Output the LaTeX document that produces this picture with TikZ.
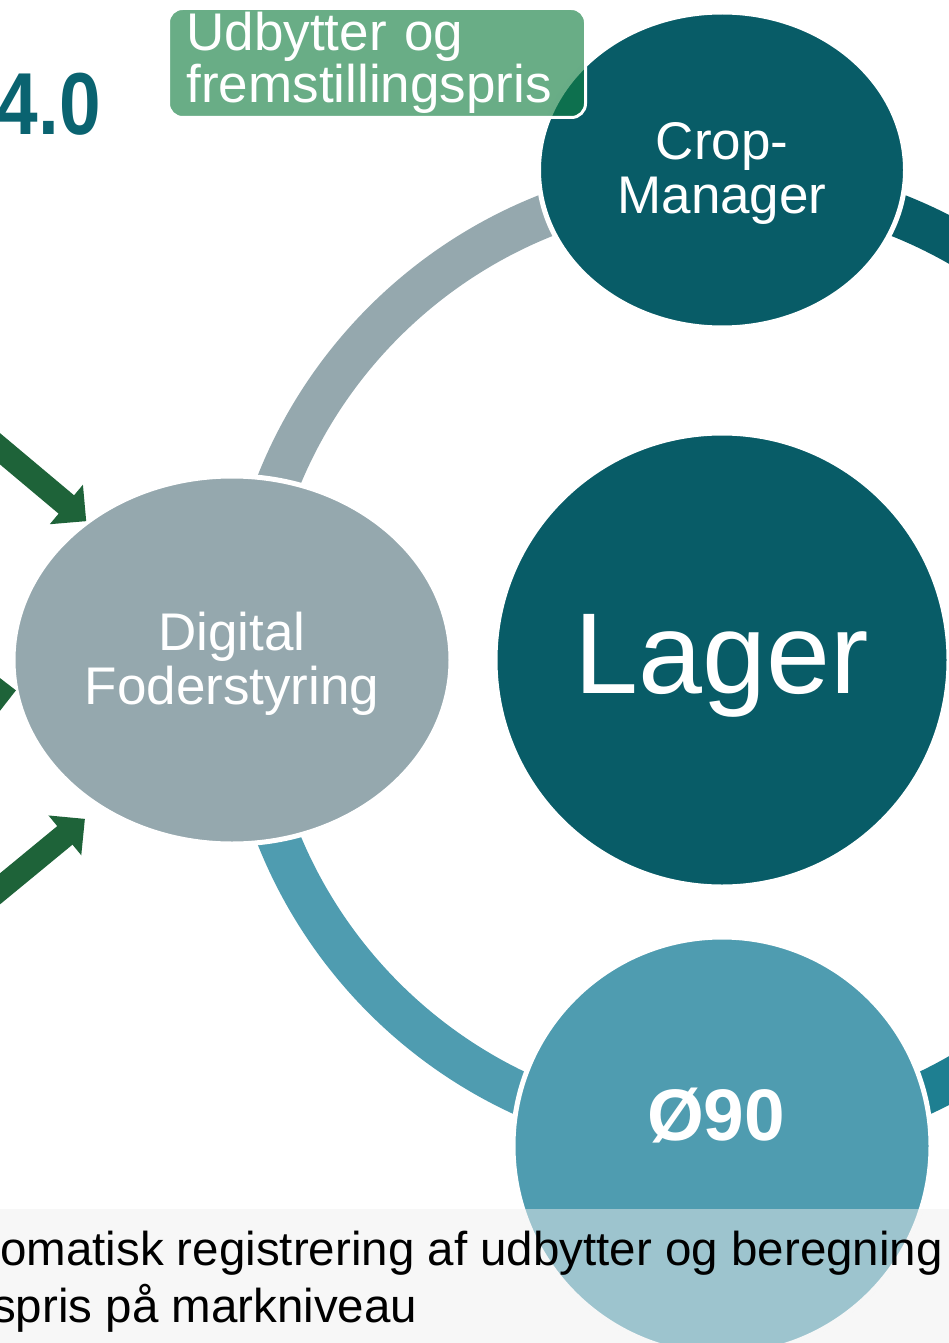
\documentclass[tikz,border=0pt]{standalone}
\usepackage{fontspec}
\setmainfont{Liberation Sans}
\usetikzlibrary{shapes.geometric,arrows.meta,calc}
\definecolor{tealdark}{HTML}{085C67}
\definecolor{grayblue}{HTML}{95A8AE}
\definecolor{lightteal}{HTML}{4F9CB0}
\definecolor{midteal}{HTML}{1E7F91}
\definecolor{arrowgreen}{HTML}{1E6339}
\definecolor{boxgreen}{HTML}{117D40}
\definecolor{bandgray}{HTML}{EFEFEF}
\definecolor{titleteal}{HTML}{0A6370}
\newcommand{\lowered}[2]{\raisebox{-#1pt}[\height][\depth]{#2}}
\tikzset{
  ringarc/.style={line width=43pt},
  cyclenode/.style={ellipse, draw=white, line width=5pt, inner sep=0pt, outer sep=0pt,
    text=white, align=center, font=\fontsize{53}{54}\selectfont},
  feedarrow/.style={arrowgreen, line width=24pt, -{Triangle[width=50pt,length=26pt]}},
  captiontext/.style={anchor=base west, inner sep=0pt, text=black, font=\fontsize{47.5}{57}\selectfont},
}
\begin{document}
\begin{tikzpicture}[x=1pt,y=-1pt]
\useasboundingbox (0,0) rectangle (949,1343);
\clip (0,0) rectangle (949,1343);
\coordinate (C) at (722,660);
% ring segments
\draw[ringarc,grayblue] (C) ++(180:478) arc[start angle=180,end angle=270,radius=478];
\draw[ringarc,tealdark] (C) ++(270:478) arc[start angle=270,end angle=360,radius=478];
\draw[ringarc,lightteal] (C) ++(90:478) arc[start angle=90,end angle=180,radius=478];
\draw[ringarc,midteal] (C) ++(0:478) arc[start angle=0,end angle=90,radius=478];
% cycle nodes
\node[cyclenode, fill=grayblue, minimum width=438pt, minimum height=368pt] (dig) at (232,660)
  {\lowered{4}{Digital}\\\lowered{4}{Foderstyring}};
\node[cyclenode, fill=tealdark, minimum width=367pt, minimum height=316pt] (crop) at (722,170)
  {\lowered{3}{Crop-}\\\lowered{3}{Manager}};
\node[cyclenode, fill=tealdark, minimum width=454pt, minimum height=454pt, font=\fontsize{115}{120}\selectfont] (lager) at (722,660) {\lowered{6}{Lager}};
\node[cyclenode, fill=lightteal, minimum width=418pt, minimum height=418pt] (oe) at (722,1146) {};
\node[text=white, inner sep=0pt, font=\bfseries\fontsize{73}{75}\selectfont] (oetext) at (716,1116) {Ø90};
% green label box
\node[draw=white, line width=3pt, fill=boxgreen, fill opacity=0.63, text opacity=1,
  rounded corners=14pt, minimum width=417pt, minimum height=109pt, anchor=north west,
  inner xsep=18pt, inner ysep=0pt, text width=381pt, align=left, text=white,
  font=\fontsize{53}{52}\selectfont] (box) at (167,7) {Udbytter og\\fremstillingspris};
% incoming arrows
\coordinate (s1) at (-45,411);
\coordinate (s2) at (-100,705);
\coordinate (s3) at (-50,930);
\draw[feedarrow] (s1) -- ($(dig.136)+(-2,0)$);
\draw[feedarrow] (s2) -- (dig.188);
\draw[feedarrow] (s3) -- ($(dig.227)+(-12,14)$);
% title
\node[anchor=base east, inner sep=0pt, text=titleteal, font=\bfseries\fontsize{88}{90}\selectfont] (title) at (101,135) {\scalebox{0.85}[1]{4.0}};
% bottom caption band
\fill[bandgray, opacity=0.49] (0,1209) rectangle (949,1343);
\node[captiontext] (cap1) at (0,1265) {omatisk registrering af udbytter og beregning};
\node[captiontext] (cap2) at (-8,1322) {spris på markniveau};
\end{tikzpicture}
\end{document}
